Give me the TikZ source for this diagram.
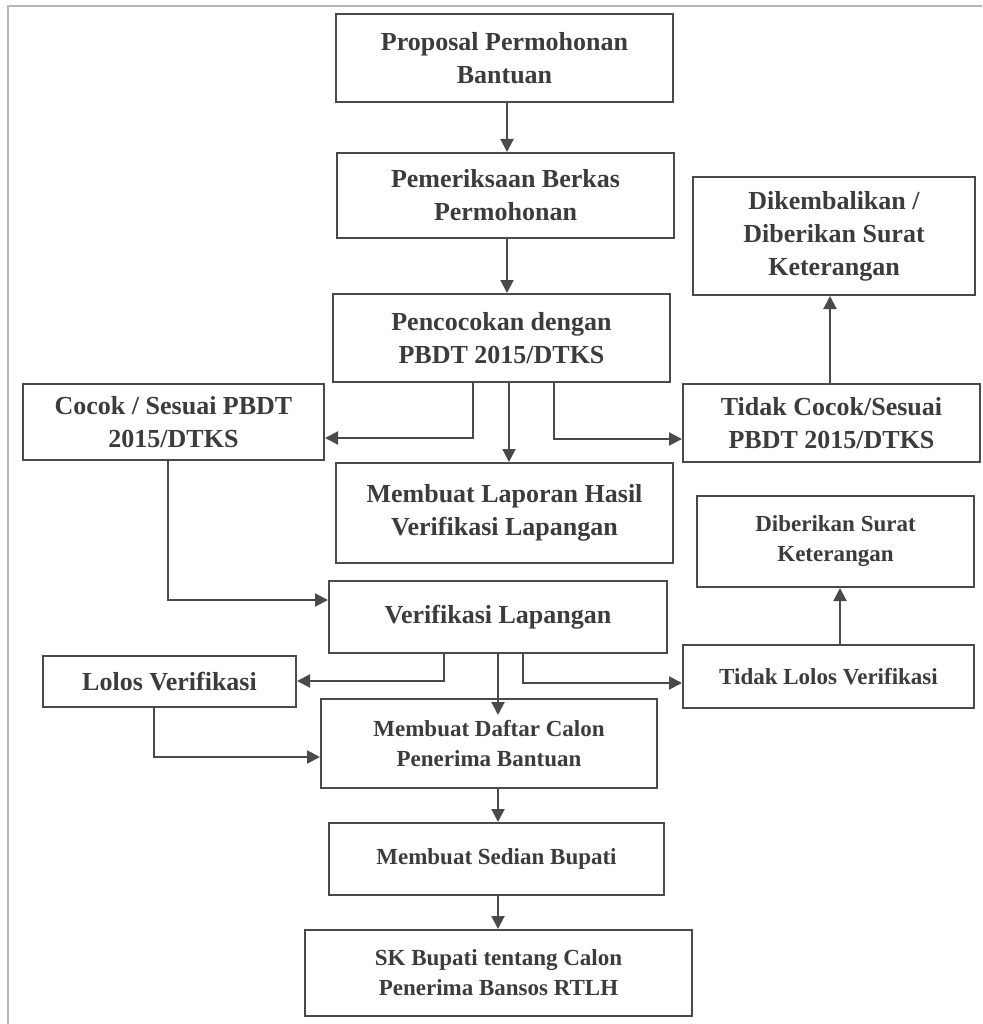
\documentclass[tikz,border=0pt]{standalone}
\usepackage{fontspec}
\setmainfont{Liberation Serif}
\usetikzlibrary{arrows.meta}
\definecolor{ink}{HTML}{4A4A4A}
\definecolor{txt}{HTML}{3C3C3C}
\definecolor{frm}{HTML}{B8B8B8}
\tikzset{
  box/.style={draw=ink, line width=2pt, fill=white, align=center, text=txt,
    inner sep=0pt, font=\fontsize{26}{33}\selectfont\bfseries},
  smallbox/.style={box, font=\fontsize{23}{30}\selectfont\bfseries},
  arr/.style={draw=ink, line width=2pt, -{Triangle[length=13pt,width=13pt]}},
}
\begin{document}
\begin{tikzpicture}[x=1pt,y=-1pt]
\useasboundingbox (0,0) rectangle (982,1024);
\fill[white] (0,0) rectangle (982,1024);
\draw[frm, line width=1.5pt] (8,1024) -- (8,6) -- (982,6);

\node[box, minimum width=337, minimum height=88] (n1) at (504.5,58) {Proposal Permohonan\\Bantuan};
\node[box, minimum width=337, minimum height=85] (n2) at (505.5,195.5) {Pemeriksaan Berkas\\Permohonan};
\node[box, minimum width=282, minimum height=118] (n3) at (834,236) {Dikembalikan /\\Diberikan Surat\\Keterangan};
\node[box, minimum width=337, minimum height=88] (n4) at (501.5,338) {Pencocokan dengan\\PBDT 2015/DTKS};
\node[box, minimum width=301, minimum height=76] (n5) at (173.5,422) {Cocok / Sesuai PBDT\\2015/DTKS};
\node[box, minimum width=297, minimum height=78] (n6) at (831.5,423) {Tidak Cocok/Sesuai\\PBDT 2015/DTKS};
\node[box, minimum width=337, minimum height=100] (n7) at (504.5,513) {Membuat Laporan Hasil\\Verifikasi Lapangan};
\node[smallbox, minimum width=277, minimum height=91] (n8) at (835.5,541.5) {Diberikan Surat\\Keterangan};
\node[box, minimum width=338, minimum height=72] (n9) at (498,617) {Verifikasi Lapangan};
\node[box, minimum width=253, minimum height=51] (n10) at (169.5,681.5) {Lolos Verifikasi};
\node[smallbox, minimum width=291, minimum height=63] (n11) at (828.5,676.5) {Tidak Lolos Verifikasi};
\node[smallbox, minimum width=336, minimum height=89] (n12) at (489,743.5) {Membuat Daftar Calon\\Penerima Bantuan};
\node[smallbox, minimum width=335, minimum height=72] (n13) at (496.5,859) {Membuat Sedian Bupati};
\node[smallbox, minimum width=387, minimum height=86] (n14) at (498.5,973) {SK Bupati tentang Calon\\Penerima Bansos RTLH};

\coordinate (t12) at (498,715);

\draw[arr] (507,0 |- n1.south) -- (507,0 |- n2.north);
\draw[arr] (507,0 |- n2.south) -- (507,0 |- n4.north);
\draw[arr] (473,0 |- n4.south) -- (473,438) -- (n5.east |- 0,438);
\draw[arr] (509,0 |- n4.south) -- (509,0 |- n7.north);
\draw[arr] (554,0 |- n4.south) -- (554,439) -- (n6.west |- 0,439);
\draw[arr] (830,0 |- n6.north) -- (830,0 |- n3.south);
\draw[arr] (168,0 |- n5.south) -- (168,600) -- (n9.west |- 0,600);
\draw[arr] (444,0 |- n9.south) -- (444,681) -- (n10.east |- 0,681);
\draw[arr] (498,0 |- n9.south) -- (t12);
\draw[arr] (523,0 |- n9.south) -- (523,683) -- (n11.west |- 0,683);
\draw[arr] (840,0 |- n11.north) -- (840,0 |- n8.south);
\draw[arr] (154,0 |- n10.south) -- (154,757) -- (n12.west |- 0,757);
\draw[arr] (498,0 |- n12.south) -- (498,0 |- n13.north);
\draw[arr] (498,0 |- n13.south) -- (498,0 |- n14.north);
\end{tikzpicture}
\end{document}
